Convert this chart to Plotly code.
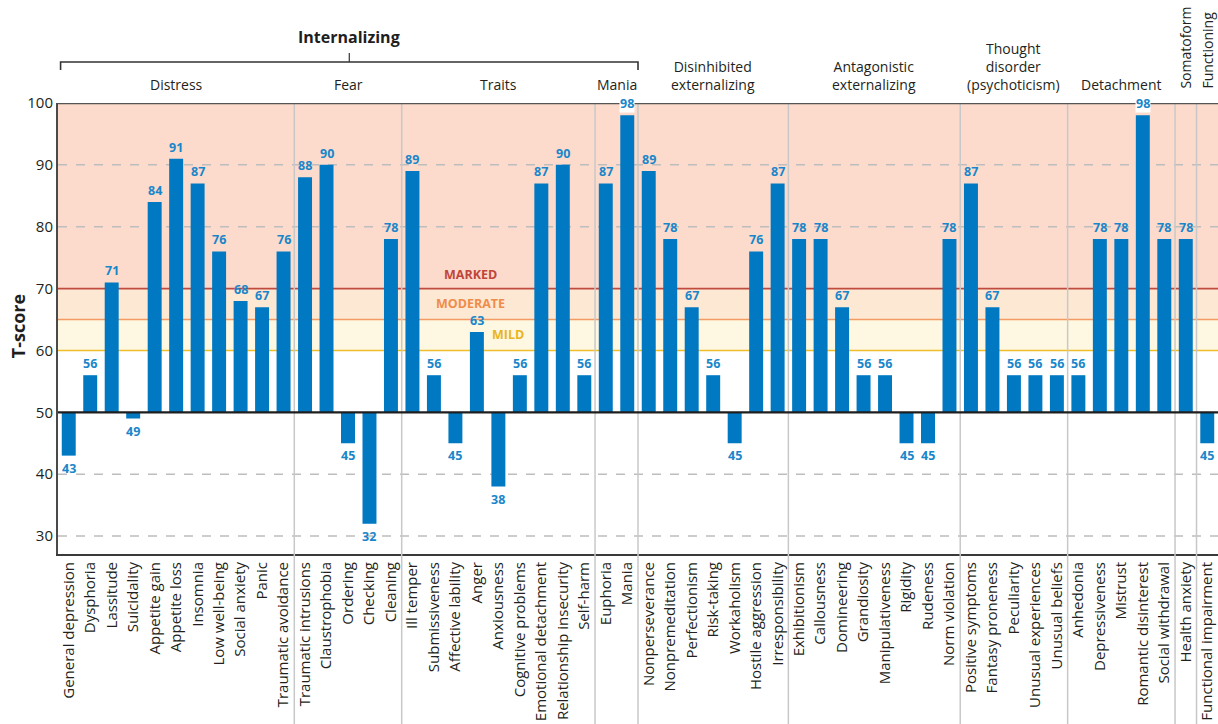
import plotly.graph_objects as go

# Scale names and T-scores, listed by spectrum / subfactor
groups = ["Distress", "Fear", "Traits", "Mania",
          "Disinhibited<br>externalizing", "Antagonistic<br>externalizing",
          "Thought<br>disorder<br>(psychoticism)", "Detachment",
          "Somatoform", "Functioning"]
group_sizes = [11, 5, 9, 2, 7, 8, 5, 5, 1, 1]

scales = [
    "General depression", "Dysphoria", "Lassitude", "Suicidality", "Appetite gain",
    "Appetite loss", "Insomnia", "Low well-being", "Social anxiety", "Panic",
    "Traumatic avoidance",
    "Traumatic intrusions", "Claustrophobia", "Ordering", "Checking", "Cleaning",
    "Ill temper", "Submissiveness", "Affective lability", "Anger", "Anxiousness",
    "Cognitive problems", "Emotional detachment", "Relationship insecurity", "Self-harm",
    "Euphoria", "Mania",
    "Nonperseverance", "Nonpremeditation", "Perfectionism", "Risk-taking",
    "Workaholism", "Hostile aggression", "Irresponsibility",
    "Exhibitionism", "Callousness", "Domineering", "Grandiosity",
    "Manipulativeness", "Rigidity", "Rudeness", "Norm violation",
    "Positive symptoms", "Fantasy proneness", "Peculiarity",
    "Unusual experiences", "Unusual beliefs",
    "Anhedonia", "Depressiveness", "Mistrust", "Romantic disinterest",
    "Social withdrawal",
    "Health anxiety",
    "Functional impairment",
]
tscores = [
    43, 56, 71, 49, 84, 91, 87, 76, 68, 67, 76,
    88, 90, 45, 32, 78,
    89, 56, 45, 63, 38, 56, 87, 90, 56,
    87, 98,
    89, 78, 67, 56, 45, 76, 87,
    78, 78, 67, 56, 56, 45, 45, 78,
    87, 67, 56, 56, 56,
    56, 78, 78, 98, 78,
    78,
    45,
]
severity_levels = [("MILD", 60, 65), ("MODERATE", 65, 70), ("MARKED", 70, 100)]

BASE = 50
Y_MIN, Y_MAX = 27.1, 100
BAR = "#0079c2"
LABEL = "#1a86ca"
FONT = "Open Sans"

x = list(range(len(scales)))
fig = go.Figure()
fig.add_trace(go.Bar(
    x=x, y=[v - BASE for v in tscores], base=BASE,
    marker=dict(color=BAR, line=dict(width=0)),
    hoverinfo="skip", showlegend=False,
))

shapes = []
band_fill = {"MILD": "#fef7e1", "MODERATE": "#fde8d4", "MARKED": "#fcdbcc"}
band_line = {"MILD": "#f0be2c", "MODERATE": "#f39b62", "MARKED": "#bf4a3e"}
band_text = {"MILD": "#e9b51c", "MODERATE": "#f08c4a", "MARKED": "#c0463a"}
for name, lo, hi in severity_levels:
    shapes.append(dict(type="rect", xref="paper", yref="y", x0=0, x1=1, y0=lo, y1=hi,
                       fillcolor=band_fill[name], line=dict(width=0), layer="below"))
for g in [30, 40, 80, 90]:
    shapes.append(dict(type="line", xref="paper", yref="y", x0=0, x1=1, y0=g, y1=g,
                       line=dict(color="#bdbdbd", width=1.5, dash="dash"), layer="below"))
for name, lo, hi in severity_levels:
    shapes.append(dict(type="line", xref="paper", yref="y", x0=0, x1=1, y0=lo, y1=lo,
                       line=dict(color=band_line[name], width=1.6), layer="below"))

# separators between subfactors, running down through the scale names
edges = []
acc = 0
for s in group_sizes[:-1]:
    acc += s
    edges.append(acc - 0.5)
for e in edges:
    shapes.append(dict(type="line", xref="x", yref="paper", x0=e, x1=e, y0=-0.38, y1=1,
                       line=dict(color="#c8c8c8", width=1.5), layer="above"))

# baseline at T = 50 and top border
shapes.append(dict(type="line", xref="paper", yref="y", x0=0, x1=1, y0=BASE, y1=BASE,
                   line=dict(color="#1e1e1e", width=2.2), layer="above"))
shapes.append(dict(type="line", xref="paper", yref="y", x0=0, x1=1, y0=Y_MAX, y1=Y_MAX,
                   line=dict(color="#555555", width=2.5), layer="above"))

# Internalizing bracket (Distress through Mania)
n_int = sum(group_sizes[:4])
bl, br = -0.38, n_int - 0.5
bm = (bl + br) / 2
yb, yd, yu = 1.091, 1.073, 1.111
shapes.append(dict(type="path", xref="x", yref="paper",
                   path=f"M {bl},{yd} L {bl},{yb} L {br},{yb} L {br},{yd}",
                   line=dict(color="#333333", width=1.6)))
shapes.append(dict(type="line", xref="x", yref="paper", x0=bm, x1=bm, y0=yb, y1=yu,
                   line=dict(color="#333333", width=1.2)))

annotations = [
    dict(x=bm, y=1.146, xref="x", yref="paper", text="<b>Internalizing</b>",
         yanchor="middle", showarrow=False,
         font=dict(family=FONT, size=16, color="#1e1e1e")),
    dict(x=-0.0345, y=0.505, xref="paper", yref="paper", text="<b>T-score</b>",
         textangle=-90, xanchor="center", yanchor="middle", showarrow=False,
         font=dict(family=FONT, size=18, color="#1e1e1e")),
]

start = 0
for g, s in zip(groups, group_sizes):
    cx = start + (s - 1) / 2
    if s == 1:
        annotations.append(dict(x=cx, y=1.027, xref="x", yref="paper", text=g,
                                textangle=-90, yanchor="bottom", showarrow=False,
                                font=dict(family=FONT, size=14, color="#231f20")))
    else:
        annotations.append(dict(x=cx, y=1.015, xref="x", yref="paper", text=g,
                                yanchor="bottom", showarrow=False,
                                font=dict(family=FONT, size=14, color="#231f20")))
    start += s

for i, v in enumerate(tscores):
    up = v >= BASE
    annotations.append(dict(
        x=i, y=v, xref="x", yref="y", text=f"<b>{v}</b>", showarrow=False,
        yanchor="bottom" if up else "top", yshift=2 if up else -3,
        bgcolor="white" if v >= 97 else None, borderpad=0,
        font=dict(family=FONT, size=12.5, color=LABEL)))

band_pos = {"MARKED": (18.7, 72.3), "MODERATE": (18.7, 67.6), "MILD": (20.45, 62.6)}
for name, lo, hi in severity_levels:
    bx, by = band_pos[name]
    annotations.append(dict(x=bx, y=by, xref="x", yref="y", text=f"<b>{name}</b>",
                            showarrow=False,
                            font=dict(family=FONT, size=12.5, color=band_text[name])))

fig.update_layout(
    width=1218, height=724,
    margin=dict(l=58, r=0, t=103, b=170, autoexpand=False),
    paper_bgcolor="white", plot_bgcolor="white",
    bargap=0.35,
    shapes=shapes, annotations=annotations,
    font=dict(family=FONT, color="#231f20"),
    xaxis=dict(range=[-0.5, len(scales) - 0.5], tickvals=x, ticktext=scales,
               tickangle=-90, tickfont=dict(family=FONT, size=15, color="#231f20"),
               showgrid=False, zeroline=False, showline=True, automargin=False,
               linecolor="#3a3a3a", linewidth=2, ticks="", ticklen=0),
    yaxis=dict(range=[Y_MIN, Y_MAX], tickvals=[30, 40, 50, 60, 70, 80, 90, 100],
               tickfont=dict(family=FONT, size=15, color="#231f20"),
               showgrid=False, zeroline=False, showline=True, automargin=False,
               linecolor="#4a4a4a", linewidth=2, ticks=""),
)

fig.write_html("out.html")
